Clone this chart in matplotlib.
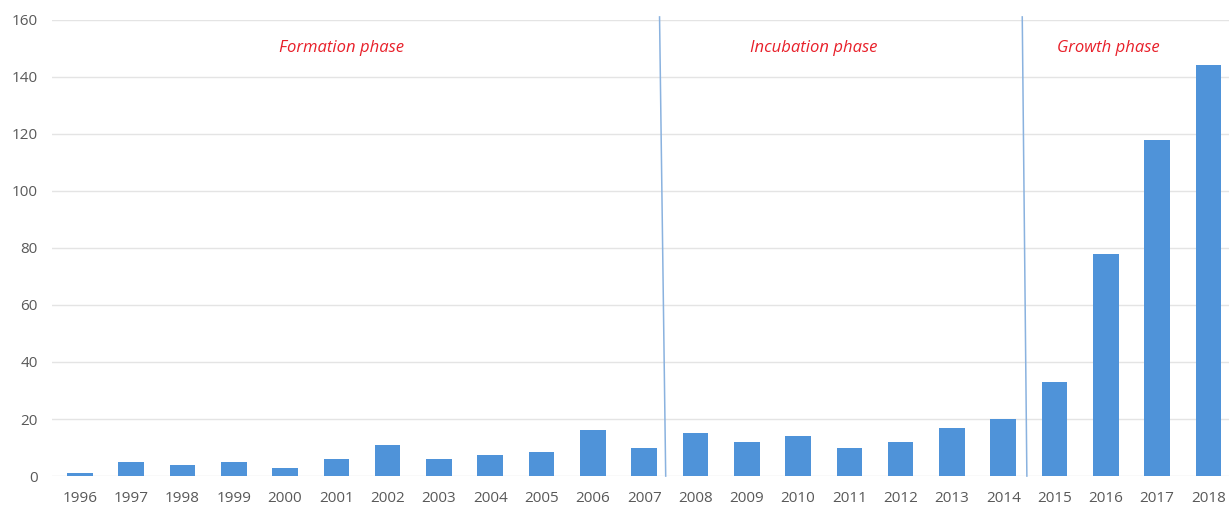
import matplotlib
matplotlib.use("Agg")
import matplotlib.pyplot as plt
import numpy as np

years = [str(y) for y in range(1996, 2019)]
counts = [1, 5, 4, 5, 3, 6, 11, 6, 7.5, 8.5, 16, 10, 15, 12, 14, 10, 12, 17, 20, 33, 78, 118, 144]

phase_names = ["Formation phase", "Incubation phase", "Growth phase"]
phase_text_x = [5.1, 14.3, 20.05]
# phase boundaries (top x, bottom x) in category units
boundaries = [(11.30, 11.42), (18.37, 18.46)]

plt.rcParams['font.family'] = ['Open Sans', 'DejaVu Sans']

fig = plt.figure(figsize=(12.29, 5.07), dpi=100)
ax = fig.add_axes([0.042, 0.061, 0.958, 0.9])

x = np.arange(len(years))
ax.bar(x, counts, width=0.5, color='#4f93d9', zorder=2)

ax.set_xlim(-0.55, 22.4)
ax.set_ylim(0, 160)
ax.set_yticks(range(0, 161, 20))
ax.set_xticks(x)
ax.set_xticklabels(years)
ax.grid(axis='y', color='#e4e4e4', linewidth=1, zorder=0)
for s in ax.spines.values():
    s.set_visible(False)
ax.tick_params(length=0, labelsize=11, colors='#595959')
ax.tick_params(axis='x', pad=11)
ax.tick_params(axis='y', pad=10)

for top, bottom in boundaries:
    ax.plot([top, bottom], [161, 0], color='#8ab2df', linewidth=1.1, clip_on=False, zorder=3)

for name, px in zip(phase_names, phase_text_x):
    ax.text(px, 150, name, color='#e8202a', style='italic', fontsize=12,
            ha='center', va='center')

fig.savefig("out.png", dpi=100)
